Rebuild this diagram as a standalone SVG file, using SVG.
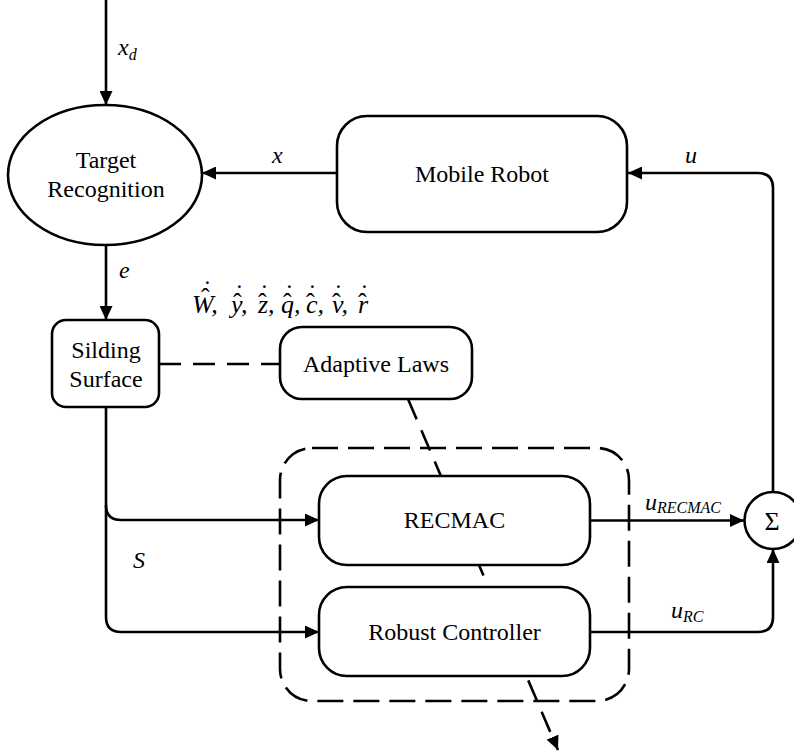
<svg xmlns="http://www.w3.org/2000/svg" width="794" height="752" viewBox="0 0 794 752">
  <defs>
    <marker id="arrow" markerUnits="userSpaceOnUse" markerWidth="15" markerHeight="13" refX="14" refY="6.5" orient="auto">
      <path d="M0,0 L14,6.5 L0,13 z" fill="#000"/>
    </marker>
    <style>
      .box { fill: #fff; stroke: #000; stroke-width: 2.6; }
      .wire { fill: none; stroke: #000; stroke-width: 2.6; }
      .dash { fill: none; stroke: #000; stroke-width: 2.6; stroke-dasharray: 22 12; }
      text { font-family: 'Liberation Serif', Tinos, 'DejaVu Serif', serif; fill: #000; }
      .lbl { font-size: 24px; text-anchor: middle; }
      .var { font-style: italic; font-size: 24px; }
      .sub { font-size: 16px; }
      .math { font-style: italic; font-size: 26px; }
      .acc { font-style: normal; }
    </style>
  </defs>

  <!-- adaptation signal passing behind the controller blocks -->
  <g id="connectors-back">
    <path class="dash" d="M408,399 L558,750" marker-end="url(#arrow)"/>
  </g>

  <!-- controller grouping -->
  <g id="controller-group">
    <rect x="280" y="448" width="349" height="253" rx="32" ry="32" fill="none" stroke="#000" stroke-width="2.6" stroke-dasharray="26 10"/>
  </g>

  <g id="connectors">
    <path class="wire" d="M106,0 V105" marker-end="url(#arrow)"/>
    <path class="wire" d="M337,173 H202" marker-end="url(#arrow)"/>
    <path class="wire" d="M773,492 V188 Q773,173 758,173 H628" marker-end="url(#arrow)"/>
    <path class="wire" d="M106,245 V320" marker-end="url(#arrow)"/>
    <path class="wire" d="M106,407 V505 Q106,520 121,520 H319" marker-end="url(#arrow)"/>
    <path class="wire" d="M106,505 V617 Q106,632 121,632 H319" marker-end="url(#arrow)"/>
    <path class="wire" d="M590,520.5 H744" marker-end="url(#arrow)"/>
    <path class="wire" d="M590,632 H758 Q773,632 773,617 V549" marker-end="url(#arrow)"/>
    <path class="dash" d="M159,364 H280"/>
  </g>

  <g id="target-recognition">
    <ellipse class="box" cx="105" cy="175" rx="97" ry="70"/>
    <text class="lbl" x="106" y="168">Target</text>
    <text class="lbl" x="106" y="197">Recognition</text>
  </g>

  <g id="mobile-robot">
    <rect class="box" x="337" y="116" width="290" height="116" rx="30" ry="30"/>
    <text class="lbl" x="482" y="182">Mobile Robot</text>
  </g>

  <g id="sliding-surface">
    <rect class="box" x="52" y="320" width="107" height="87" rx="14" ry="14"/>
    <text class="lbl" x="106" y="358">Silding</text>
    <text class="lbl" x="106" y="387">Surface</text>
  </g>

  <g id="adaptive-laws">
    <rect class="box" x="280" y="327" width="192" height="72" rx="22" ry="22"/>
    <text class="lbl" x="376" y="372">Adaptive Laws</text>
  </g>

  <g id="recmac">
    <rect class="box" x="319" y="476" width="271" height="89" rx="28" ry="28"/>
    <text class="lbl" x="454.5" y="528">RECMAC</text>
  </g>

  <g id="robust-controller">
    <rect class="box" x="319" y="587" width="271" height="89" rx="28" ry="28"/>
    <text class="lbl" x="454.5" y="640">Robust Controller</text>
  </g>

  <g id="summer">
    <circle class="box" cx="773" cy="520.5" r="28.5"/>
    <text class="lbl" x="772" y="530" style="font-size:26px">Σ</text>
  </g>

  <!-- signal labels -->
  <g id="labels">
    <text class="var" x="118" y="55">x<tspan class="sub" dy="5">d</tspan></text>
    <text class="var" x="272" y="163">x</text>
    <text class="var" x="685" y="163">u</text>
    <text class="var" x="119" y="278">e</text>
    <text class="var" x="133" y="568">S</text>
    <text class="var" x="645" y="510">u<tspan class="sub" dy="3">RECMAC</tspan></text>
    <text class="var" x="671" y="618">u<tspan class="sub" dy="4">RC</tspan></text>
  </g>

  <!-- adapted parameter rates: letters, then hats and dots placed above them -->
  <g id="parameter-rates">
    <text class="math"><tspan x="192" y="313">W,</tspan><tspan x="231" y="313">y,</tspan><tspan x="258" y="313">z,</tspan><tspan x="281" y="313">q,</tspan><tspan x="306" y="313">c,</tspan><tspan x="332" y="313">v,</tspan><tspan x="358" y="313">r</tspan><tspan class="acc" x="201" y="306">ˆ</tspan><tspan class="acc" x="203" y="298">˙</tspan><tspan class="acc" x="233" y="311">ˆ</tspan><tspan class="acc" x="235" y="302">˙</tspan><tspan class="acc" x="258" y="311">ˆ</tspan><tspan class="acc" x="260" y="302">˙</tspan><tspan class="acc" x="283" y="311">ˆ</tspan><tspan class="acc" x="285" y="302">˙</tspan><tspan class="acc" x="306" y="311">ˆ</tspan><tspan class="acc" x="308" y="302">˙</tspan><tspan class="acc" x="332" y="311">ˆ</tspan><tspan class="acc" x="334" y="302">˙</tspan><tspan class="acc" x="358" y="311">ˆ</tspan><tspan class="acc" x="360" y="302">˙</tspan></text>
  </g>
</svg>
